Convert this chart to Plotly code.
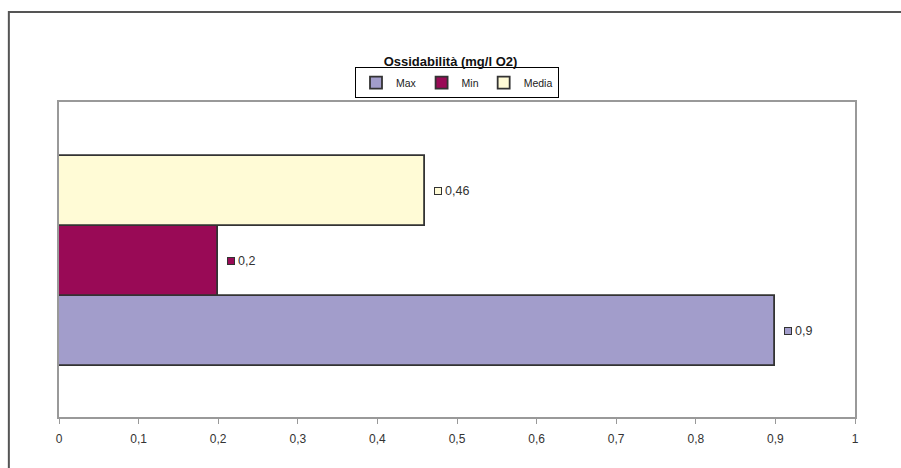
import plotly.graph_objects as go

categories = ['Max', 'Min', 'Media']
values = [0.9, 0.2, 0.46]
labels = ['0,9', '0,2', '0,46']
colors = ['#A29DCB', '#990A56', '#FFFBD6']

fig = go.Figure()

for cat, val, col in zip(categories, values, colors):
    fig.add_trace(go.Bar(y=[cat], x=[val], name=cat, orientation='h',
                         marker=dict(color=col, line=dict(color='#333333', width=1.8))))

# data labels: little colour key plus the value, as Excel draws them
for cat, val, lab, col in zip(categories, values, labels, colors):
    fig.add_annotation(x=val, y=cat, text=' ', showarrow=False, xanchor='left',
                       xshift=9, width=6, height=6, borderpad=0,
                       bgcolor=col, bordercolor='#333333', borderwidth=1)
    fig.add_annotation(x=val, y=cat, text=lab, showarrow=False, xanchor='left',
                       xshift=18, font=dict(size=12.5, color='#333333'))

# outer frame of the picture
fig.add_shape(type='rect', xref='paper', yref='paper', x0=-0.063, y0=-0.3, x1=1.1, y1=1.286,
              line=dict(color='#555555', width=2), layer='below')

fig.update_layout(
    width=901, height=468,
    margin=dict(l=59, r=46, t=102, b=51),
    paper_bgcolor='white', plot_bgcolor='white',
    font=dict(family='Arial, Liberation Sans, sans-serif', color='#222222'),
    separators=',.',
    barmode='overlay', bargap=0,
    showlegend=True,
    title=dict(text='<b>Ossidabilità (mg/l O2)</b>', x=0.5, xanchor='center',
               y=0.868, yanchor='middle', font=dict(size=13, color='#111111')),
    legend=dict(orientation='h', x=0.5, xanchor='center', y=1.012, yanchor='bottom',
                traceorder='normal', bordercolor='#000000', borderwidth=1,
                font=dict(size=10.5, color='#222222'), itemwidth=30,
                tracegroupgap=0),
    xaxis=dict(range=[0, 1], dtick=0.1, tick0=0, showgrid=False, zeroline=False,
               showline=True, linecolor='#999999', linewidth=1.5, mirror=True,
               ticks='outside', ticklen=5, tickcolor='#999999', ticklabelstandoff=5,
               tickfont=dict(size=12, color='#333333')),
    yaxis=dict(range=[-1.23, 3.27], showticklabels=False, showgrid=False, zeroline=False,
               showline=True, linecolor='#999999', linewidth=1.5, mirror=True, ticks=''),
)

fig.write_html('out.html', config={'displayModeBar': False},
               post_script="document.body.style.margin='0';")
